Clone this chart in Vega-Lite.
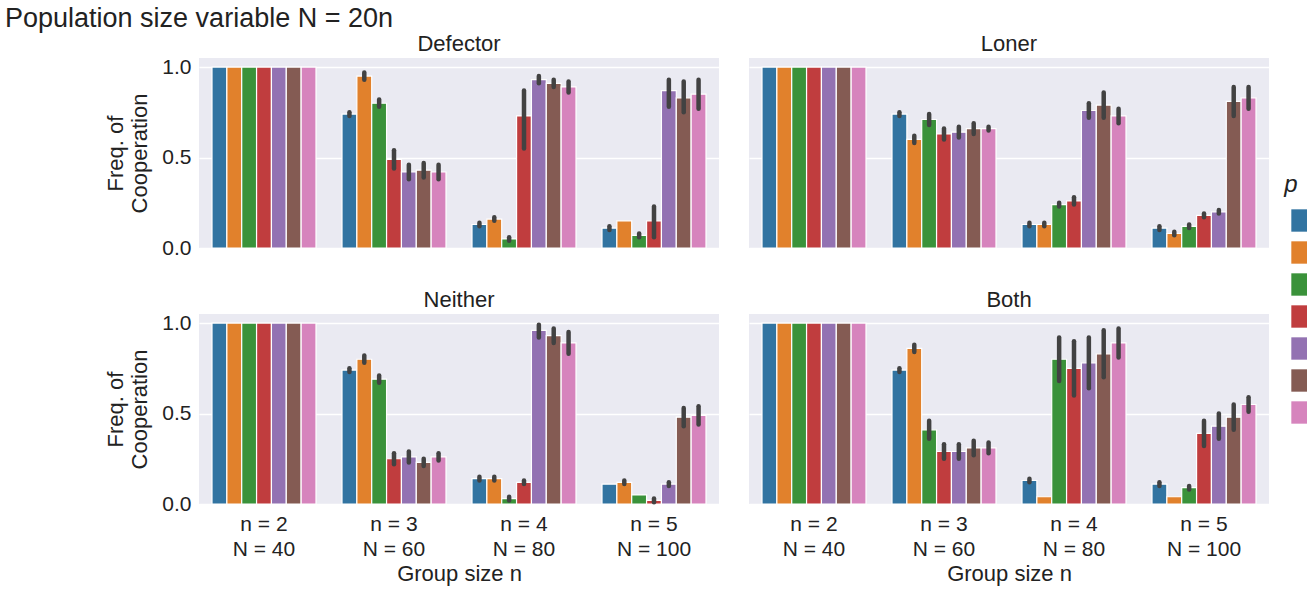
{
  "$schema": "https://vega.github.io/schema/vega-lite/v6.json",
  "background": "white",
  "title": {"text": "Population size variable N = 20n", "fontSize": 27, "fontWeight": "normal", "font": "Liberation Sans", "offset": 0, "anchor": "middle", "frame": "group", "color": "#222"},
  "config": {
    "font": "Liberation Sans",
    "view": {"fill": "#eaeaf2", "stroke": null},
    "axis": {"labelFontSize": 21, "titleFontSize": 22, "titleFontWeight": "normal", "domain": false, "ticks": false, "gridColor": "white", "gridWidth": 1.5, "labelColor": "#222", "titleColor": "#222", "labelPadding": 8},
    "header": {"labelFontSize": 22, "title": null, "labelColor": "#222", "labelPadding": 2},
    "legend": {"labelFontSize": 20, "titleFontSize": 24, "titleFontStyle": "italic", "titleFontWeight": "normal", "symbolType": "square", "symbolSize": 500, "symbolStrokeWidth": 0, "rowPadding": 9, "titleAlign": "center", "titlePadding": 12, "labelColor": "#222", "titleColor": "#222"}
  },
  "data": {"values": [
    {"f":"Defector","n":2,"p":1,"v":1},{"f":"Defector","n":2,"p":2,"v":1},{"f":"Defector","n":2,"p":4,"v":1},{"f":"Defector","n":2,"p":6,"v":1},{"f":"Defector","n":2,"p":8,"v":1},{"f":"Defector","n":2,"p":10,"v":1},{"f":"Defector","n":2,"p":12,"v":1},
    {"f":"Defector","n":3,"p":1,"v":0.74,"lo":0.73,"hi":0.75},{"f":"Defector","n":3,"p":2,"v":0.95,"lo":0.93,"hi":0.97},{"f":"Defector","n":3,"p":4,"v":0.80,"lo":0.78,"hi":0.82},{"f":"Defector","n":3,"p":6,"v":0.49,"lo":0.44,"hi":0.54},{"f":"Defector","n":3,"p":8,"v":0.42,"lo":0.38,"hi":0.46},{"f":"Defector","n":3,"p":10,"v":0.43,"lo":0.39,"hi":0.47},{"f":"Defector","n":3,"p":12,"v":0.42,"lo":0.38,"hi":0.46},
    {"f":"Defector","n":4,"p":1,"v":0.13,"lo":0.12,"hi":0.14},{"f":"Defector","n":4,"p":2,"v":0.16,"lo":0.15,"hi":0.17},{"f":"Defector","n":4,"p":4,"v":0.05,"lo":0.04,"hi":0.06},{"f":"Defector","n":4,"p":6,"v":0.73,"lo":0.55,"hi":0.87},{"f":"Defector","n":4,"p":8,"v":0.93,"lo":0.91,"hi":0.95},{"f":"Defector","n":4,"p":10,"v":0.91,"lo":0.89,"hi":0.93},{"f":"Defector","n":4,"p":12,"v":0.89,"lo":0.86,"hi":0.92},
    {"f":"Defector","n":5,"p":1,"v":0.11,"lo":0.10,"hi":0.12},{"f":"Defector","n":5,"p":2,"v":0.15},{"f":"Defector","n":5,"p":4,"v":0.07,"lo":0.06,"hi":0.08},{"f":"Defector","n":5,"p":6,"v":0.15,"lo":0.06,"hi":0.23},{"f":"Defector","n":5,"p":8,"v":0.87,"lo":0.78,"hi":0.93},{"f":"Defector","n":5,"p":10,"v":0.83,"lo":0.75,"hi":0.92},{"f":"Defector","n":5,"p":12,"v":0.85,"lo":0.77,"hi":0.93},
    {"f":"Loner","n":2,"p":1,"v":1},{"f":"Loner","n":2,"p":2,"v":1},{"f":"Loner","n":2,"p":4,"v":1},{"f":"Loner","n":2,"p":6,"v":1},{"f":"Loner","n":2,"p":8,"v":1},{"f":"Loner","n":2,"p":10,"v":1},{"f":"Loner","n":2,"p":12,"v":1},
    {"f":"Loner","n":3,"p":1,"v":0.74,"lo":0.73,"hi":0.75},{"f":"Loner","n":3,"p":2,"v":0.60,"lo":0.58,"hi":0.62},{"f":"Loner","n":3,"p":4,"v":0.71,"lo":0.68,"hi":0.74},{"f":"Loner","n":3,"p":6,"v":0.63,"lo":0.60,"hi":0.66},{"f":"Loner","n":3,"p":8,"v":0.64,"lo":0.61,"hi":0.67},{"f":"Loner","n":3,"p":10,"v":0.66,"lo":0.63,"hi":0.69},{"f":"Loner","n":3,"p":12,"v":0.66,"lo":0.65,"hi":0.67},
    {"f":"Loner","n":4,"p":1,"v":0.13,"lo":0.12,"hi":0.14},{"f":"Loner","n":4,"p":2,"v":0.13,"lo":0.12,"hi":0.14},{"f":"Loner","n":4,"p":4,"v":0.24,"lo":0.23,"hi":0.25},{"f":"Loner","n":4,"p":6,"v":0.26,"lo":0.24,"hi":0.28},{"f":"Loner","n":4,"p":8,"v":0.76,"lo":0.72,"hi":0.80},{"f":"Loner","n":4,"p":10,"v":0.79,"lo":0.72,"hi":0.86},{"f":"Loner","n":4,"p":12,"v":0.73,"lo":0.69,"hi":0.77},
    {"f":"Loner","n":5,"p":1,"v":0.11,"lo":0.10,"hi":0.12},{"f":"Loner","n":5,"p":2,"v":0.08,"lo":0.07,"hi":0.09},{"f":"Loner","n":5,"p":4,"v":0.12,"lo":0.11,"hi":0.13},{"f":"Loner","n":5,"p":6,"v":0.18,"lo":0.17,"hi":0.19},{"f":"Loner","n":5,"p":8,"v":0.20,"lo":0.19,"hi":0.21},{"f":"Loner","n":5,"p":10,"v":0.81,"lo":0.73,"hi":0.89},{"f":"Loner","n":5,"p":12,"v":0.83,"lo":0.77,"hi":0.89},
    {"f":"Neither","n":2,"p":1,"v":1},{"f":"Neither","n":2,"p":2,"v":1},{"f":"Neither","n":2,"p":4,"v":1},{"f":"Neither","n":2,"p":6,"v":1},{"f":"Neither","n":2,"p":8,"v":1},{"f":"Neither","n":2,"p":10,"v":1},{"f":"Neither","n":2,"p":12,"v":1},
    {"f":"Neither","n":3,"p":1,"v":0.74,"lo":0.73,"hi":0.75},{"f":"Neither","n":3,"p":2,"v":0.80,"lo":0.78,"hi":0.82},{"f":"Neither","n":3,"p":4,"v":0.69,"lo":0.67,"hi":0.71},{"f":"Neither","n":3,"p":6,"v":0.25,"lo":0.22,"hi":0.28},{"f":"Neither","n":3,"p":8,"v":0.26,"lo":0.23,"hi":0.29},{"f":"Neither","n":3,"p":10,"v":0.23,"lo":0.21,"hi":0.25},{"f":"Neither","n":3,"p":12,"v":0.26,"lo":0.24,"hi":0.28},
    {"f":"Neither","n":4,"p":1,"v":0.14,"lo":0.13,"hi":0.15},{"f":"Neither","n":4,"p":2,"v":0.14,"lo":0.13,"hi":0.15},{"f":"Neither","n":4,"p":4,"v":0.03,"lo":0.02,"hi":0.04},{"f":"Neither","n":4,"p":6,"v":0.12,"lo":0.11,"hi":0.13},{"f":"Neither","n":4,"p":8,"v":0.96,"lo":0.92,"hi":0.99},{"f":"Neither","n":4,"p":10,"v":0.93,"lo":0.89,"hi":0.97},{"f":"Neither","n":4,"p":12,"v":0.89,"lo":0.83,"hi":0.95},
    {"f":"Neither","n":5,"p":1,"v":0.11},{"f":"Neither","n":5,"p":2,"v":0.12,"lo":0.11,"hi":0.13},{"f":"Neither","n":5,"p":4,"v":0.05},{"f":"Neither","n":5,"p":6,"v":0.02,"lo":0.01,"hi":0.03},{"f":"Neither","n":5,"p":8,"v":0.11,"lo":0.10,"hi":0.12},{"f":"Neither","n":5,"p":10,"v":0.48,"lo":0.43,"hi":0.53},{"f":"Neither","n":5,"p":12,"v":0.49,"lo":0.44,"hi":0.54},
    {"f":"Both","n":2,"p":1,"v":1},{"f":"Both","n":2,"p":2,"v":1},{"f":"Both","n":2,"p":4,"v":1},{"f":"Both","n":2,"p":6,"v":1},{"f":"Both","n":2,"p":8,"v":1},{"f":"Both","n":2,"p":10,"v":1},{"f":"Both","n":2,"p":12,"v":1},
    {"f":"Both","n":3,"p":1,"v":0.74,"lo":0.73,"hi":0.75},{"f":"Both","n":3,"p":2,"v":0.86,"lo":0.84,"hi":0.88},{"f":"Both","n":3,"p":4,"v":0.41,"lo":0.36,"hi":0.46},{"f":"Both","n":3,"p":6,"v":0.29,"lo":0.25,"hi":0.33},{"f":"Both","n":3,"p":8,"v":0.29,"lo":0.25,"hi":0.33},{"f":"Both","n":3,"p":10,"v":0.31,"lo":0.27,"hi":0.35},{"f":"Both","n":3,"p":12,"v":0.31,"lo":0.28,"hi":0.34},
    {"f":"Both","n":4,"p":1,"v":0.13,"lo":0.12,"hi":0.14},{"f":"Both","n":4,"p":2,"v":0.04},{"f":"Both","n":4,"p":4,"v":0.80,"lo":0.68,"hi":0.92},{"f":"Both","n":4,"p":6,"v":0.75,"lo":0.60,"hi":0.90},{"f":"Both","n":4,"p":8,"v":0.78,"lo":0.64,"hi":0.92},{"f":"Both","n":4,"p":10,"v":0.83,"lo":0.70,"hi":0.96},{"f":"Both","n":4,"p":12,"v":0.89,"lo":0.81,"hi":0.97},
    {"f":"Both","n":5,"p":1,"v":0.11,"lo":0.10,"hi":0.12},{"f":"Both","n":5,"p":2,"v":0.04},{"f":"Both","n":5,"p":4,"v":0.09,"lo":0.08,"hi":0.10},{"f":"Both","n":5,"p":6,"v":0.39,"lo":0.32,"hi":0.46},{"f":"Both","n":5,"p":8,"v":0.43,"lo":0.36,"hi":0.50},{"f":"Both","n":5,"p":10,"v":0.48,"lo":0.41,"hi":0.55},{"f":"Both","n":5,"p":12,"v":0.55,"lo":0.51,"hi":0.59}
  ]},
  "facet": {"field": "f", "type": "nominal", "sort": ["Defector", "Loner", "Neither", "Both"]},
  "columns": 2,
  "spacing": {"column": 30, "row": 40},
  "spec": {
    "width": 520,
    "height": 190,
    "encoding": {
      "x": {"field": "n", "type": "ordinal", "scale": {"paddingInner": 0.2, "paddingOuter": 0.1},
        "axis": {"title": "Group size n", "labelAngle": 0, "grid": false, "labelExpr": "['n = ' + datum.value, 'N = ' + (20 * datum.value)]", "labelLineHeight": 25}},
      "xOffset": {"field": "p", "type": "ordinal"}
    },
    "layer": [
      {"mark": {"type": "bar", "stroke": "white", "strokeWidth": 1.2},
        "encoding": {
          "y": {"field": "v", "type": "quantitative", "scale": {"domain": [0, 1.05], "nice": false},
            "axis": {"title": ["Freq. of", "Cooperation"], "values": [0, 0.5, 1], "format": ".1f", "titlePadding": 10}},
          "color": {"field": "p", "type": "ordinal", "title": "p",
            "scale": {"range": ["#3274a1", "#e1812c", "#3a923a", "#c03d3e", "#9372b2", "#845b53", "#d684bd"]},
            "legend": {"orient": "none", "legendX": 1085, "legendY": 115}}
        }},
      {"mark": {"type": "rule", "strokeWidth": 4.5, "strokeCap": "round", "color": "#424242"},
        "encoding": {"y": {"field": "lo", "type": "quantitative"}, "y2": {"field": "hi"}}}
    ]
  }
}
